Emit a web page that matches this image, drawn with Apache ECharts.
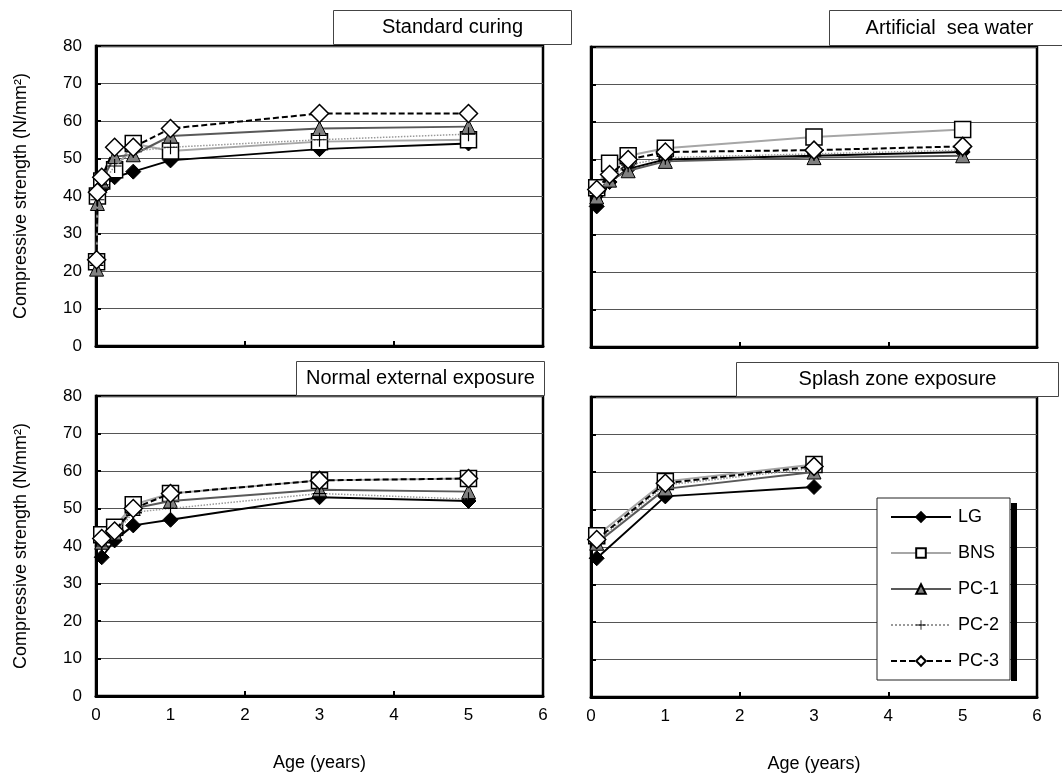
<!DOCTYPE html>
<html>
<head>
<meta charset="utf-8">
<script src="https://cdn.jsdelivr.net/npm/echarts@6/dist/echarts.min.js"></script>
<style>
html,body{margin:0;padding:0;background:#fff;}
#chart{width:1062px;height:778px;}
</style>
</head>
<body>
<div id="chart"></div>
<script>
// ---------- DATA ----------
const seriesNames = ['LG', 'BNS', 'PC-1', 'PC-2', 'PC-3'];
const panelTitles = ['Standard curing', 'Artificial  sea water', 'Normal external exposure', 'Splash zone exposure'];
const xTickLabels = ['0', '1', '2', '3', '4', '5', '6'];
const yTickLabels = ['0', '10', '20', '30', '40', '50', '60', '70', '80'];
const yTitle = 'Compressive strength (N/mm²)';
const xTitle = 'Age (years)';

// ages in years
const agesStandard = [0.008, 0.019, 0.077, 0.25, 0.5, 1, 3, 5];
const stdLG  = [21, 39, 42, 45, 46.5, 49.5, 52.5, 54];
const stdBNS = [22.5, 40, 44, 47, 54, 52, 54.5, 55];
const stdPC1 = [20.5, 38, 44, 50.5, 51, 56, 58, 58.5];
const stdPC2 = [21.5, 39, 43, 48, 52, 53, 55, 56.5];
const stdPC3 = [23, 41, 45, 53, 53, 58, 62, 62];

const agesSea = [0.077, 0.25, 0.5, 1, 3, 5];
const seaLG  = [37.5, 44, 47.5, 50, 51, 52];
const seaBNS = [42.5, 49, 51, 53, 56, 58];
const seaPC1 = [40, 44.5, 47, 49.5, 50.5, 51];
const seaPC2 = [41, 45, 48.5, 50.5, 51.5, 52.5];
const seaPC3 = [42, 46, 50, 52, 52.5, 53.5];

const agesNormal = [0.077, 0.25, 0.5, 1, 3, 5];
const norLG  = [37, 41.5, 45.5, 47, 53, 52];
const norBNS = [43, 45, 51, 54, 57.5, 58];
const norPC1 = [41, 43.5, 50, 52, 55, 54.5];
const norPC2 = [40, 43, 49, 50, 54, 52.5];
const norPC3 = [42, 44, 50, 54, 57.5, 58];

const agesSplash = [0.077, 1, 3];
const splLG  = [37, 53.5, 56];
const splBNS = [43, 57.5, 62];
const splPC1 = [41, 55.5, 60];
const splPC2 = [41.5, 56.5, 61];
const splPC3 = [42, 57, 61.5];

// ---------- BUILD ----------
const FONT = '"Liberation Sans", Arial, sans-serif';
const panels = [
  {ages: agesStandard, vals: [stdLG, stdBNS, stdPC1, stdPC2, stdPC3]},
  {ages: agesSea,      vals: [seaLG, seaBNS, seaPC1, seaPC2, seaPC3]},
  {ages: agesNormal,   vals: [norLG, norBNS, norPC1, norPC2, norPC3]},
  {ages: agesSplash,   vals: [splLG, splBNS, splPC1, splPC2, splPC3]}
];

const plusPath = 'path://M11,0H13V11H24V13H13V24H11V13H0V11H11Z';
const styles = [
  {symbol: 'diamond', symbolSize: 15, itemStyle: {color: '#000', borderColor: '#000', borderWidth: 1}, lineStyle: {color: '#000', width: 2, type: 'solid'}},
  {symbol: 'rect', symbolSize: 16, itemStyle: {color: '#fff', borderColor: '#000', borderWidth: 1.5}, lineStyle: {color: '#a6a6a6', width: 2, type: 'solid'}},
  {symbol: 'triangle', symbolSize: 14, itemStyle: {color: '#808080', borderColor: '#000', borderWidth: 1}, lineStyle: {color: '#595959', width: 2, type: 'solid'}},
  {symbol: plusPath, symbolSize: 14, itemStyle: {color: '#000', borderWidth: 0}, lineStyle: {color: '#999', width: 1.5, type: 'dotted'}},
  {symbol: 'diamond', symbolSize: 18, itemStyle: {color: '#fff', borderColor: '#000', borderWidth: 1.5}, lineStyle: {color: '#000', width: 2, type: [6, 3]}}
];

const grids = [
  {left: 96, top: 46, width: 447, height: 300},
  {left: 591, top: 47, width: 446, height: 300},
  {left: 96, top: 396, width: 447, height: 300},
  {left: 591, top: 397, width: 446, height: 300}
].map(g => Object.assign(g, {show: true, borderColor: '#000', borderWidth: 2.5, backgroundColor: 'transparent', containLabel: false}));

const xAxes = [];
const yAxes = [];
for (let i = 0; i < 4; i++) {
  xAxes.push({
    gridIndex: i, type: 'value', position: 'bottom', min: 0, max: 6, interval: 2,
    axisLine: {show: true, onZero: false, lineStyle: {color: '#000', width: 3}},
    axisTick: {show: true, inside: true, length: 5, lineStyle: {color: '#000', width: 2}},
    axisLabel: {show: false},
    splitLine: {show: false}
  });
  const left = (i % 2 === 0);
  yAxes.push({
    gridIndex: i, type: 'value', position: 'left', min: 0, max: 80, interval: 10,
    axisLine: {show: true, onZero: false, lineStyle: {color: '#000', width: 3}},
    axisTick: {show: true, inside: true, length: 5, lineStyle: {color: '#000', width: 2}},
    axisLabel: {show: left, fontSize: 17, color: '#000', fontFamily: FONT, margin: 14,
      formatter: v => yTickLabels[Math.round(v / 10)]},
    splitLine: {show: true, lineStyle: {color: '#555', width: 1}},
    name: left ? yTitle : '', nameLocation: 'middle', nameGap: 66,
    nameTextStyle: {fontSize: 18, color: '#000', fontFamily: FONT}
  });
}
// label axes for the bottom panels
[2, 3].forEach(i => {
  xAxes.push({
    gridIndex: i, type: 'value', position: 'bottom', offset: 0, min: 0, max: 6, interval: 1,
    axisLine: {show: false, onZero: false}, axisTick: {show: false}, splitLine: {show: false},
    axisLabel: {show: true, fontSize: 17, color: '#000', fontFamily: FONT, margin: 11,
      formatter: v => xTickLabels[Math.round(v)]},
    name: xTitle, nameLocation: 'middle', nameGap: 58,
    nameTextStyle: {fontSize: 18, color: '#000', fontFamily: FONT}
  });
});

const series = [];
panels.forEach((p, pi) => {
  p.vals.forEach((vals, k) => {
    const st = styles[k];
    series.push({
      name: seriesNames[k], type: 'line', xAxisIndex: pi, yAxisIndex: pi,
      data: p.ages.map((a, j) => [a, vals[j]]),
      symbol: st.symbol, symbolSize: st.symbolSize,
      showAllSymbol: true,
      itemStyle: st.itemStyle, lineStyle: st.lineStyle,
      z: 2 + k, animation: false, silent: true
    });
  });
});

function titleBox(x, y, w, h, text) {
  return {
    type: 'group', left: x, top: y, z: 20,
    children: [
      {type: 'rect', shape: {x: 0, y: 0, width: w, height: h}, style: {fill: '#fff', stroke: '#444', lineWidth: 1}},
      {type: 'text', x: w / 2, y: h / 2, style: {text: text, fontSize: 20, fontFamily: FONT, fill: '#000', align: 'center', verticalAlign: 'middle'}}
    ]
  };
}

const option = {
  backgroundColor: '#fff',
  animation: false,
  grid: grids,
  xAxis: xAxes,
  yAxis: yAxes,
  series: series,
  legend: {
    orient: 'vertical', left: 877, top: 498,
    itemWidth: 60, itemHeight: 12, itemGap: 18,
    padding: [10, 11, 10, 13],
    backgroundColor: '#fff', borderColor: '#222', borderWidth: 1,
    textStyle: {fontSize: 18, color: '#000', fontFamily: FONT, padding: [0, 0, 0, 2]},
    data: seriesNames, selectedMode: false, z: 10
  },
  graphic: [
    {type: 'rect', z: 5, shape: {x: 1011, y: 503, width: 6, height: 178}, style: {fill: '#000'}},
    titleBox(333, 10, 238, 34, panelTitles[0]),
    titleBox(829, 10, 240, 35, panelTitles[1]),
    titleBox(296, 361, 248, 34, panelTitles[2]),
    titleBox(736, 362, 322, 34, panelTitles[3])
  ]
};

const chart = echarts.init(document.getElementById('chart'), null, {renderer: 'canvas'});
chart.setOption(option);
</script>
</body>
</html>
